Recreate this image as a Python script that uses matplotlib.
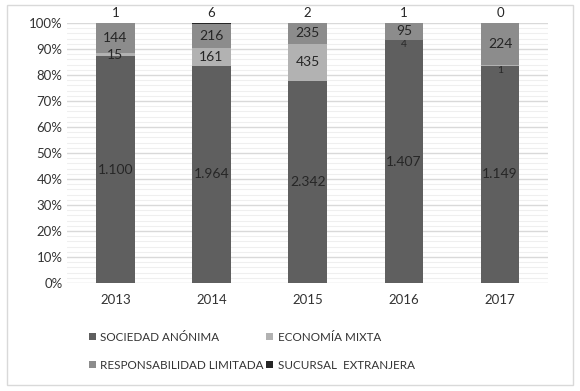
import numpy as np
import matplotlib.pyplot as plt
from matplotlib.ticker import MultipleLocator, PercentFormatter
from matplotlib.patches import Rectangle

plt.rcParams['font.family'] = ['Lato', 'DejaVu Sans']

years = ["2013", "2014", "2015", "2016", "2017"]
sociedad_anonima = [1100, 1964, 2342, 1407, 1149]
economia_mixta = [15, 161, 435, 4, 1]
resp_limitada = [144, 216, 235, 95, 224]
sucursal_ext = [1, 6, 2, 1, 0]

series = [
    ("SOCIEDAD ANÓNIMA", sociedad_anonima, "#5f5f5f"),
    ("ECONOMÍA MIXTA", economia_mixta, "#b2b2b2"),
    ("RESPONSABILIDAD LIMITADA", resp_limitada, "#8c8c8c"),
    ("SUCURSAL  EXTRANJERA", sucursal_ext, "#262626"),
]

def fmt(v):
    return "{:,}".format(v).replace(",", ".")

totals = np.array(sociedad_anonima) + np.array(economia_mixta) + np.array(resp_limitada) + np.array(sucursal_ext)

fig = plt.figure(figsize=(5.8, 3.91), dpi=100)
fig.patches.append(Rectangle((0.012, 0.015), 0.976, 0.972, transform=fig.transFigure,
                             fill=False, edgecolor="#d9d9d9", linewidth=1))
ax = fig.add_axes([0.116, 0.276, 0.829, 0.665])

x = np.arange(len(years))
bottom = np.zeros(len(years))
handles = []
for i, (name, vals, color) in enumerate(series):
    frac = np.array(vals) / totals * 100
    h = ax.bar(x, frac, 0.4, bottom=bottom, color=color, label=name, zorder=3)
    handles.append(h)
    for xi, b, f, v in zip(x, bottom, frac, vals):
        if i == 3:
            ax.text(xi, 101.5, fmt(v), ha="center", va="bottom", fontsize=9.5, color="#262626")
        elif i == 1 and v < 10:
            ax.text(xi, b + f / 2 - 1.8, fmt(v), ha="center", va="center", fontsize=7.5,
                    color="#262626", zorder=4)
        else:
            ax.text(xi, b + f / 2, fmt(v), ha="center", va="center", fontsize=10,
                    color="#262626", zorder=4)
    bottom += frac

ax.set_xlim(-0.5, 4.5)
ax.set_ylim(0, 100)
ax.set_xticks(x)
ax.set_xticklabels(years)
ax.yaxis.set_major_locator(MultipleLocator(10))
ax.yaxis.set_minor_locator(MultipleLocator(2))
ax.yaxis.set_major_formatter(PercentFormatter(decimals=0))
ax.grid(axis="y", which="major", color="#d9d9d9", linewidth=1, zorder=0)
ax.grid(axis="y", which="minor", color="#efefef", linewidth=0.8, zorder=0)
for s in ax.spines.values():
    s.set_visible(False)
ax.tick_params(axis="both", which="both", length=0, labelsize=9.5, colors="#333333")
ax.tick_params(axis="x", pad=8)

order = [0, 2, 1, 3]
fig.legend(handles=[handles[k] for k in order], loc="lower left", bbox_to_anchor=(0.135, 0.025), ncol=2,
           frameon=False, fontsize=8.4, handlelength=0.6, handleheight=0.6,
           handletextpad=0.4, columnspacing=0.2, labelspacing=1.45, labelcolor="#333333")

fig.savefig("out.png", dpi=100)
